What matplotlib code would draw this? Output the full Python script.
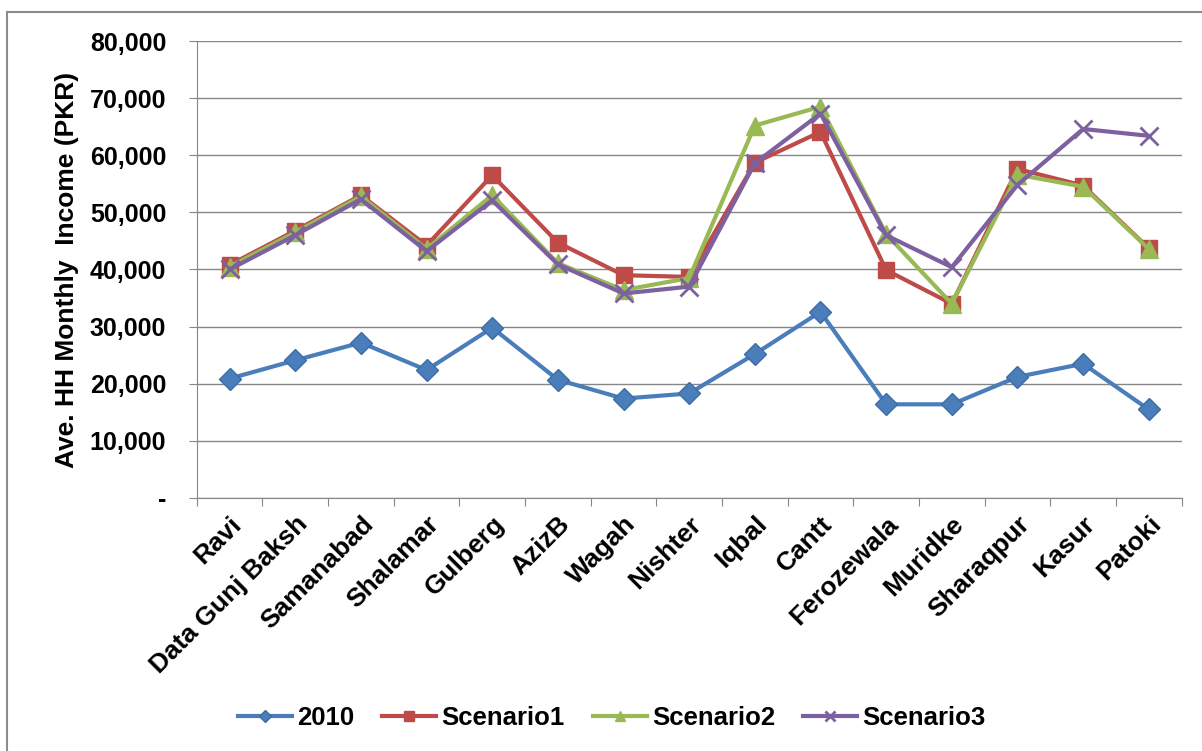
import matplotlib
matplotlib.use("Agg")
import matplotlib.pyplot as plt
import numpy as np
from matplotlib.patches import Rectangle
from matplotlib.ticker import FuncFormatter, FixedLocator

plt.rcParams['font.family'] = ['Liberation Sans', 'DejaVu Sans']

towns = ["Ravi", "Data Gunj Baksh", "Samanabad", "Shalamar", "Gulberg", "AzizB",
         "Wagah", "Nishter", "Iqbal", "Cantt", "Ferozewala", "Muridke",
         "Sharaqpur", "Kasur", "Patoki"]
inc_2010 = [20900, 24100, 27200, 22400, 29800, 20700, 17400, 18300, 25200,
            32600, 16400, 16400, 21200, 23500, 15500]
scenario1 = [40800, 46800, 53000, 44200, 56500, 44700, 39000, 38700, 58700,
             64100, 39900, 34000, 57600, 54700, 43700]
scenario2 = [40500, 46500, 52800, 43600, 53000, 41100, 36400, 38500, 65200,
             68500, 46200, 34000, 56600, 54500, 43600]
scenario3 = [40000, 46000, 52300, 43200, 52100, 40900, 35800, 37000, 58600,
             67300, 46000, 40400, 54800, 64600, 63400]

fig = plt.figure(figsize=(12.02, 7.51), dpi=100)
ax = fig.add_axes([0.1637, 0.3369, 0.8193, 0.6085])

# outer chart frame
fig.patches.append(Rectangle((7/1202, -0.01), 1.02, 1 - 12/751 + 0.01,
                             transform=fig.transFigure, fill=False,
                             edgecolor='#8c8c8c', linewidth=1.5))

x = np.arange(len(towns))
ax.plot(x, inc_2010, color='#4A7EBB', lw=3, marker='D', ms=11,
        markeredgecolor='#3D6DA8', label='2010')
ax.plot(x, scenario1, color='#BE4B48', lw=3, marker='s', ms=12,
        markeredgecolor='#BE4B48', label='Scenario1')
ax.plot(x, scenario2, color='#98B954', lw=3, marker='^', ms=13,
        markeredgecolor='#98B954', label='Scenario2')
ax.plot(x, scenario3, color='#7D60A0', lw=3, marker='x', ms=13, mew=2,
        label='Scenario3')

ax.set_xlim(-0.5, len(towns) - 0.5)
ax.set_ylim(0, 80000)
ax.set_yticks(np.arange(0, 80001, 10000))
ax.yaxis.set_major_formatter(FuncFormatter(lambda v, p: '-' if v == 0 else f'{int(v):,}'))
ax.grid(axis='y', color='#868686', lw=1)
ax.set_axisbelow(True)

ax.xaxis.set_major_locator(FixedLocator(np.arange(-0.5, len(towns), 1)))
ax.xaxis.set_major_formatter(FuncFormatter(lambda v, p: ''))
ax.xaxis.set_minor_locator(FixedLocator(x))
ax.set_xticklabels(towns, minor=True, rotation=45, ha='right', rotation_mode='anchor',
                   fontsize=19, fontweight='bold')
ax.tick_params(axis='x', which='minor', length=0, pad=10)
ax.tick_params(axis='x', which='major', length=6, color='#868686')
ax.tick_params(axis='y', length=6, color='#868686', labelsize=18, pad=16)
for lab in ax.get_yticklabels():
    lab.set_fontweight('bold')

for side in ['top', 'right']:
    ax.spines[side].set_visible(False)
for side in ['left', 'bottom']:
    ax.spines[side].set_color('#868686')

ax.set_ylabel('Ave. HH Monthly  Income (PKR)', fontsize=19, fontweight='bold', labelpad=8)

fig.legend(loc='center', bbox_to_anchor=(0.509, 0.044), ncol=4, frameon=False,
           prop={'size': 18.5, 'weight': 'bold'}, handlelength=2.1, columnspacing=1.1,
           handletextpad=0.2, markerscale=0.55)

fig.savefig('out.png', dpi=100)
